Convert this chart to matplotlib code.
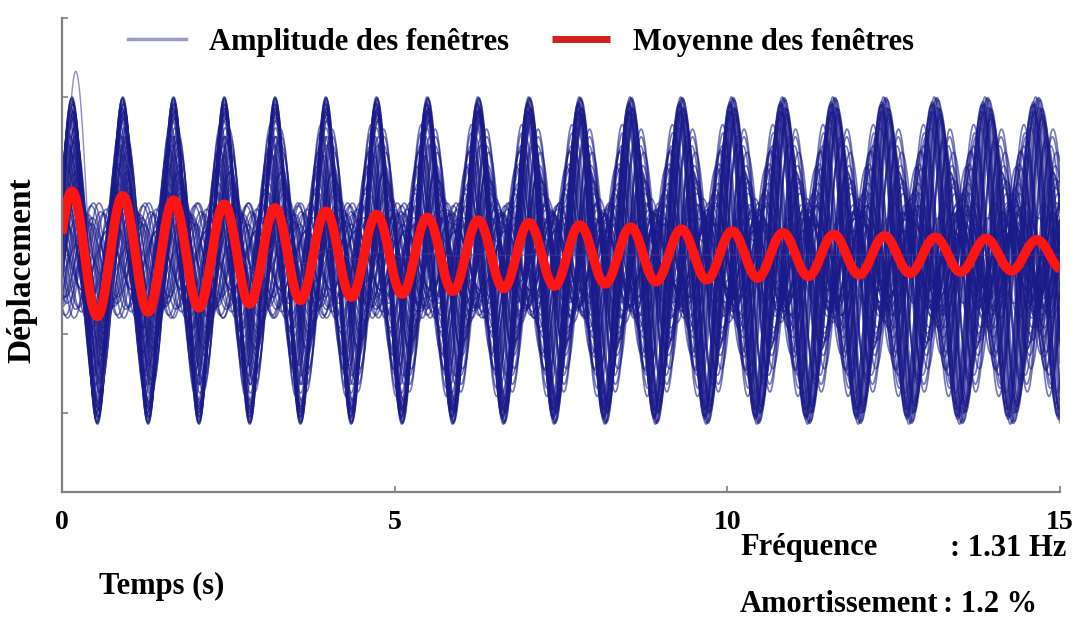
import numpy as np
import matplotlib
matplotlib.use("Agg")
import matplotlib.pyplot as plt

# identified modal parameters
freq_hz = 1.31
damping = 0.012
mean_amp = 0.82      # amplitude of the averaged signature at t = 0
t_first_peak = 0.15  # s

# windows: in-phase / quadrature amplitude and small frequency offset (Hz)
win_cos = [2.07, 2.03, 2.00, 2.05, 1.95, 1.91, 1.98, 1.86, 1.81, 1.93, 1.77, 1.83, 1.88, 1.79,
           1.66, 1.58, 1.50, 1.42, 1.34, 1.26, 1.18, 1.10, 1.02, 0.95, 0.88, 1.46, 1.30, 0.82,
           0.74, 0.66, 0.58, 0.50, 0.42, 0.35, 0.27, 0.20, 0.12, 0.05, -0.03, -0.10, -0.18,
           -0.25, -0.33, -0.40, -0.48, -0.55, -0.62, -0.70,
           2.06, 1.97, 1.90, 1.84, 1.72, 1.62, 1.54, 1.46, 1.37, 1.30, 1.21, 1.13,
           1.05, 0.97, 0.90, 0.78, 0.70, 0.62, 0.45, 0.30, 0.15, -0.05, -0.22, -0.45]
win_sin = [0.05, -0.12, 0.18, -0.06, 0.25, -0.22, 0.10, 0.30, -0.34, -0.15, 0.38, -0.28, 0.20, 0.12,
           -0.45, 0.52, -0.60, 0.66, -0.38, 0.72, -0.70, 0.48, -0.55, 0.62, -0.42, 0.35, -0.64, 0.58,
           0.55, -0.62, 0.40, -0.48, 0.66, -0.30, 0.58, -0.70, 0.25, -0.52, 0.60, -0.36, 0.45,
           -0.60, 0.32, -0.44, 0.50, -0.28, 0.38, -0.20,
           -0.08, 0.15, -0.26, 0.33, -0.40, 0.44, -0.30, 0.57, -0.50, 0.25, 0.64, -0.46,
           0.36, -0.68, 0.52, -0.34, 0.48, -0.58, 0.28, -0.45, 0.62, -0.38, 0.54, 0.30]
win_dfreq = [0.002, -0.005, 0.006, -0.001, 0.008, -0.007, 0.003, 0.009, -0.010, -0.004, 0.011, -0.009, 0.005, -0.006,
             0.015, -0.018, 0.012, -0.016, 0.019, -0.013, 0.017, -0.020, 0.016, -0.014, 0.021, -0.009, 0.013, -0.022,
             -0.018, 0.022, -0.025, 0.019, -0.028, 0.024, -0.021, 0.027, -0.016, 0.030, -0.023, 0.026, -0.020,
             0.017, -0.029, 0.021, -0.024, 0.018, -0.026, 0.028,
             -0.003, 0.006, -0.009, 0.005, -0.012, 0.011, -0.015, 0.019, -0.017, 0.016, -0.021, 0.020,
             -0.018, 0.022, -0.019, 0.020, -0.022, 0.025, -0.027, 0.023, -0.031, 0.029, -0.024, 0.026]
win_offset = -0.07

# one early window that overshoots then dies out
odd_cos, odd_sin, odd_decay = 2.36, 1.54, 0.9

x_ticks = [0, 5, 10, 15]

plt.rcParams['font.family'] = ['Liberation Serif', 'DejaVu Serif']
plt.rcParams['font.weight'] = 'bold'
plt.rcParams['axes.labelweight'] = 'bold'

t = np.linspace(0, 15, 3000)
w0 = 2 * np.pi * freq_hz

fig = plt.figure(figsize=(10.77, 6.35), dpi=100)
ax = fig.add_axes([62 / 1077, 1 - 492 / 635, 998 / 1077, 474 / 635])

blue = '#1a1a8a'
for i, (c, s, df) in enumerate(zip(win_cos, win_sin, win_dfreq)):
    th = 2 * np.pi * (freq_hz + df) * (t - t_first_peak)
    y = win_offset + c * np.cos(th) + s * np.sin(th)
    ax.plot(t, y, color=blue, lw=1.2, alpha=0.6,
            label='Amplitude des fenêtres' if i == 0 else None)

th = w0 * (t - t_first_peak)
ax.plot(t, np.exp(-odd_decay * t) * (odd_cos * np.cos(th) + odd_sin * np.sin(th)),
        color='#4040a0', lw=1.0, alpha=0.6)

moyenne = mean_amp * np.exp(-damping * w0 * t) * np.cos(w0 * (t - t_first_peak))
ax.plot(t, moyenne, color='#ff1414', lw=6.8, solid_capstyle='butt', label='Moyenne des fenêtres')

ax.set_xlim(0, 15)
ax.set_ylim(-3, 3)
ax.set_xticks(x_ticks)
ax.set_yticks(range(-3, 4))
ax.set_yticklabels([])
ax.tick_params(direction='in', length=4, width=1.2, colors='#808080', labelcolor='black',
               labelsize=20, pad=13)
for side in ['top', 'right']:
    ax.spines[side].set_visible(False)
for side in ['left', 'bottom']:
    ax.spines[side].set_color('#808080')
    ax.spines[side].set_linewidth(1.6)

ax.set_xlabel('Temps (s)', fontsize=22)
ax.xaxis.set_label_coords((162 - 62) / 998, -(572 - 492) / 474)
ax.set_ylabel('Déplacement', fontsize=24)
ax.yaxis.set_label_coords(-(62 - 37) / 998, (492 - 270) / 474)

leg = ax.legend(loc='upper left', bbox_to_anchor=((128 - 62) / 998, 1 - (28 - 18) / 474),
                ncol=2, frameon=False, fontsize=22, borderpad=0, borderaxespad=0,
                handlelength=1.9, handletextpad=0.75, columnspacing=1.4)
leg.legend_handles[0].set_linewidth(2.5)
leg.legend_handles[0].set_alpha(0.6)
leg.legend_handles[0].set_color('#5a5aa8')
leg.legend_handles[1].set_linewidth(5)
leg.legend_handles[1].set_color('#d42020')

fig.text(740 / 1077, 1 - 548 / 635, 'Fréquence', fontsize=22, va='center')
fig.text(950 / 1077, 1 - 548 / 635, ': 1.31 Hz', fontsize=22, va='center')
fig.text(740 / 1077, 1 - 605 / 635, 'Amortissement', fontsize=22, va='center')
fig.text(943 / 1077, 1 - 605 / 635, ': 1.2 %', fontsize=22, va='center')

fig.savefig('out.png', dpi=100)
